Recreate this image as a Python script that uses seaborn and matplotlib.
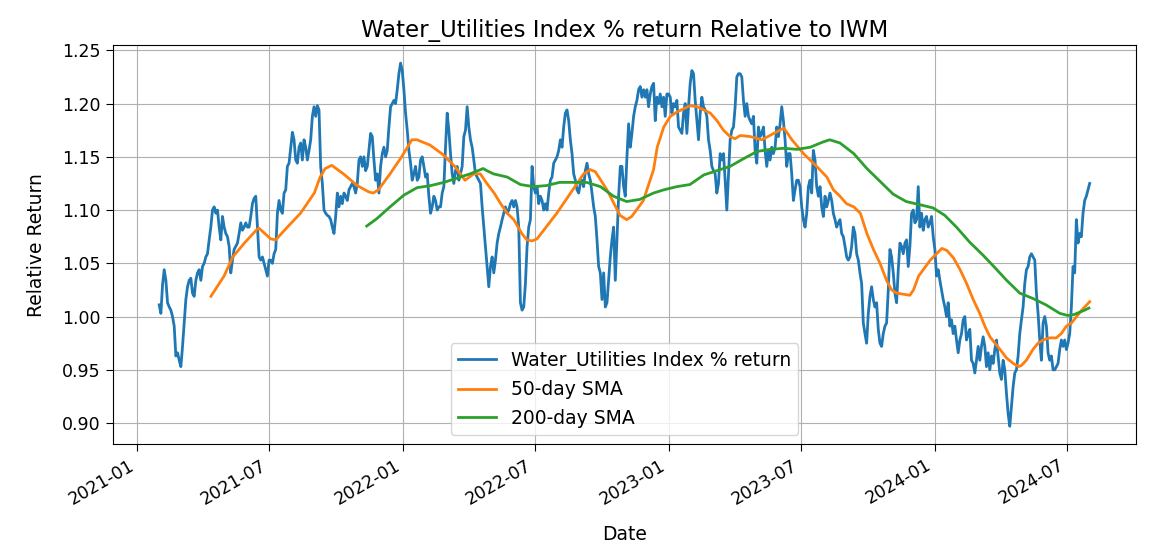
import numpy as np
import pandas as pd
import seaborn as sns
import matplotlib.pyplot as plt
import matplotlib.dates as mdates

# daily-ish relative return readings, 2021-01-31 .. 2024-08-01 (evenly spaced)
rel_return = [
    1.011, 1.003, 1.030, 1.044, 1.034, 1.013, 1.009, 1.006, 1.000, 0.991,
    0.963, 0.966, 0.959, 0.953, 0.972, 0.994, 1.016, 1.028, 1.034, 1.036,
    1.022, 1.019, 1.034, 1.041, 1.044, 1.034, 1.047, 1.050, 1.056, 1.059,
    1.072, 1.084, 1.100, 1.103, 1.097, 1.100, 1.084, 1.072, 1.094, 1.084,
    1.078, 1.075, 1.066, 1.041, 1.053, 1.063, 1.066, 1.069, 1.078, 1.088,
    1.081, 1.084, 1.088, 1.084, 1.084, 1.094, 1.106, 1.111, 1.113, 1.084,
    1.056, 1.053, 1.056, 1.050, 1.044, 1.038, 1.053, 1.053, 1.050, 1.059,
    1.063, 1.097, 1.109, 1.100, 1.097, 1.116, 1.119, 1.141, 1.144, 1.159,
    1.173, 1.166, 1.147, 1.144, 1.159, 1.163, 1.147, 1.166, 1.159, 1.147,
    1.156,
    1.166, 1.188, 1.197, 1.188, 1.198, 1.194, 1.141, 1.125, 1.100, 1.097,
    1.095, 1.094, 1.091, 1.084, 1.078, 1.094, 1.116, 1.103, 1.113, 1.106,
    1.116, 1.113, 1.109, 1.119, 1.122, 1.125, 1.122, 1.116, 1.125, 1.147,
    1.150, 1.141, 1.150, 1.137, 1.141, 1.156, 1.172, 1.169, 1.147, 1.128,
    1.134, 1.116, 1.141, 1.153, 1.159, 1.150, 1.156, 1.178, 1.197, 1.200,
    1.203, 1.200, 1.213, 1.228, 1.238, 1.231, 1.213, 1.191, 1.175, 1.156,
    1.144, 1.128, 1.134, 1.141, 1.128, 1.131, 1.147, 1.150, 1.141, 1.131,
    1.134, 1.113, 1.097, 1.103, 1.113, 1.109, 1.100, 1.103, 1.103, 1.116,
    1.122, 1.159, 1.191, 1.175, 1.153, 1.134, 1.125, 1.137, 1.141, 1.128,
    1.134, 1.141, 1.169, 1.175, 1.197, 1.178, 1.166, 1.159, 1.147, 1.134,
    1.131, 1.128,
    1.125, 1.103, 1.084, 1.066, 1.047, 1.028, 1.047, 1.056, 1.041, 1.053,
    1.069, 1.078, 1.084, 1.091, 1.097, 1.103, 1.097, 1.100, 1.106, 1.109,
    1.103, 1.109, 1.103, 1.084, 1.013, 1.006, 1.009, 1.031, 1.066, 1.084,
    1.091, 1.141, 1.122, 1.116, 1.122, 1.106, 1.113, 1.109, 1.100, 1.106,
    1.100, 1.116, 1.128, 1.131, 1.144, 1.147, 1.150, 1.156, 1.166, 1.159,
    1.178, 1.191, 1.194, 1.184, 1.166, 1.153, 1.134, 1.128, 1.119, 1.116,
    1.125, 1.128, 1.122, 1.137, 1.144, 1.134, 1.128, 1.116, 1.103, 1.094,
    1.072, 1.047, 1.041, 1.016, 1.041, 1.009, 1.013, 1.034, 1.056, 1.072,
    1.084, 1.034, 1.072, 1.113, 1.141, 1.141, 1.122, 1.113, 1.150, 1.181,
    1.159, 1.172, 1.188, 1.197, 1.203, 1.213, 1.216, 1.206, 1.213, 1.206,
    1.213, 1.197,
    1.209, 1.216, 1.219, 1.184, 1.206, 1.200, 1.209, 1.197, 1.206, 1.188,
    1.209, 1.209, 1.206, 1.191, 1.200, 1.197, 1.203, 1.178, 1.175, 1.172,
    1.191, 1.200, 1.172, 1.197, 1.219, 1.231, 1.228, 1.203, 1.184, 1.166,
    1.191, 1.206, 1.197, 1.194, 1.188, 1.166, 1.156, 1.141, 1.137, 1.134,
    1.116, 1.125, 1.153, 1.147, 1.153, 1.128, 1.100, 1.134, 1.166, 1.175,
    1.178, 1.197, 1.225, 1.228, 1.228, 1.225, 1.203, 1.188, 1.200, 1.188,
    1.184, 1.181, 1.188, 1.156, 1.144, 1.178, 1.169, 1.172, 1.178, 1.156,
    1.141, 1.156, 1.147, 1.159, 1.153, 1.159, 1.178, 1.169, 1.181, 1.197,
    1.184, 1.166, 1.141, 1.153, 1.153, 1.134, 1.109, 1.119, 1.128, 1.128,
    1.122, 1.103, 1.091, 1.084, 1.097, 1.122, 1.128, 1.116, 1.156, 1.147,
    1.122, 1.113,
    1.122, 1.103, 1.094, 1.113, 1.103, 1.109, 1.116, 1.109, 1.097, 1.091,
    1.084, 1.088, 1.091, 1.078, 1.075, 1.066, 1.056, 1.053, 1.056, 1.066,
    1.084, 1.078, 1.059, 1.053, 1.041, 1.031, 0.994, 0.984, 0.975, 1.003,
    1.019, 1.028, 1.016, 1.009, 1.013, 0.988, 0.975, 0.972, 0.984, 0.991,
    0.994, 1.025, 1.063, 1.056, 1.041, 1.022, 1.013, 1.044, 1.069, 1.066,
    1.059, 1.069, 1.072, 1.047, 1.066, 1.097, 1.100, 1.088, 1.091, 1.122,
    1.084, 1.097, 1.081, 1.091, 1.094, 1.084, 1.088, 1.094, 1.075, 1.063,
    1.038, 1.044, 1.034, 1.025, 1.016, 1.009, 1.000, 1.013, 0.991, 0.997,
    0.984, 0.991, 0.978, 0.966, 0.978, 0.984, 0.997, 1.000, 0.978, 0.984,
    0.988, 0.959, 0.956, 0.947, 0.959, 0.972,
    0.959, 0.972, 0.981, 0.972, 0.953, 0.966, 0.950, 0.963, 0.956, 0.969,
    0.978, 0.963, 0.947, 0.941, 0.959, 0.950, 0.928, 0.909, 0.897, 0.916,
    0.934, 0.947, 0.950, 0.963, 0.984, 0.997, 1.009, 1.031, 1.044, 1.047,
    1.056, 1.059, 1.056, 1.053, 1.022, 1.003, 0.978, 0.959, 0.994, 1.000,
    0.991, 0.966, 0.959, 0.963, 0.950, 0.950, 0.953, 0.956, 0.969, 0.978,
    0.972, 0.978, 0.969, 0.975, 0.984, 1.009, 1.047, 1.041, 1.091, 1.069,
    1.078, 1.075, 1.097, 1.109, 1.113, 1.119, 1.125,
]
start_date = '2021-01-31'
end_date = '2024-08-01'

sma50_dates = [
    '2021-04-12', '2021-04-30', '2021-05-12', '2021-05-28', '2021-06-13', '2021-06-17',
    '2021-07-03', '2021-07-10', '2021-07-26', '2021-08-13', '2021-09-01', '2021-09-09',
    '2021-09-16', '2021-09-25', '2021-10-11', '2021-10-30', '2021-11-15', '2021-11-21',
    '2021-11-28', '2021-12-14', '2021-12-30', '2022-01-13', '2022-01-20', '2022-02-07',
    '2022-02-25', '2022-03-13', '2022-03-27', '2022-04-08', '2022-04-17', '2022-04-26',
    '2022-05-06', '2022-05-15', '2022-05-24', '2022-06-02', '2022-06-13', '2022-06-20',
    '2022-06-27', '2022-07-04', '2022-07-13', '2022-07-31', '2022-08-19', '2022-09-06',
    '2022-09-15', '2022-09-22', '2022-10-08', '2022-10-26', '2022-11-04', '2022-11-11',
    '2022-11-27', '2022-12-11', '2022-12-16', '2022-12-25', '2023-01-03', '2023-01-12',
    '2023-01-21', '2023-01-30', '2023-02-09', '2023-02-18', '2023-02-27', '2023-03-08',
    '2023-03-17', '2023-03-26', '2023-04-02', '2023-04-09', '2023-04-23', '2023-05-09',
    '2023-05-25', '2023-06-08', '2023-06-19', '2023-07-05', '2023-07-23', '2023-08-06',
    '2023-08-15', '2023-08-24', '2023-09-02', '2023-09-12', '2023-09-21', '2023-09-30',
    '2023-10-09', '2023-10-18', '2023-10-27', '2023-11-03', '2023-11-10', '2023-11-28',
    '2023-12-03', '2023-12-10', '2023-12-26', '2024-01-11', '2024-01-18', '2024-01-27',
    '2024-02-05', '2024-02-14', '2024-02-23', '2024-03-03', '2024-03-10', '2024-03-17',
    '2024-03-24', '2024-03-31', '2024-04-09', '2024-04-18', '2024-04-25', '2024-04-29',
    '2024-05-06', '2024-05-15', '2024-05-22', '2024-05-29', '2024-06-07', '2024-06-16',
    '2024-06-23', '2024-06-30', '2024-07-07', '2024-07-14', '2024-07-21', '2024-07-28',
    '2024-08-01',
]
sma50 = [
    1.019, 1.038, 1.056, 1.069, 1.081, 1.083,
    1.073, 1.072, 1.084, 1.097, 1.116, 1.131,
    1.139, 1.142, 1.134, 1.123, 1.117, 1.116,
    1.119, 1.134, 1.150, 1.166, 1.166, 1.161,
    1.152, 1.141, 1.128, 1.134, 1.134, 1.125,
    1.116, 1.106, 1.097, 1.091, 1.078, 1.072,
    1.071, 1.073, 1.081, 1.097, 1.116, 1.134,
    1.138, 1.136, 1.119, 1.095, 1.091, 1.094,
    1.109, 1.138, 1.159, 1.178, 1.188, 1.192,
    1.195, 1.198, 1.197, 1.194, 1.191, 1.184,
    1.175, 1.169, 1.167, 1.170, 1.169, 1.166,
    1.172, 1.177, 1.166, 1.153, 1.141, 1.131,
    1.119, 1.113, 1.106, 1.103, 1.097, 1.078,
    1.063, 1.050, 1.034, 1.025, 1.022, 1.020,
    1.025, 1.038, 1.053, 1.064, 1.062, 1.055,
    1.044, 1.031, 1.016, 1.003, 0.991, 0.981,
    0.975, 0.969, 0.961, 0.956, 0.953, 0.954,
    0.959, 0.969, 0.975, 0.978, 0.980, 0.980,
    0.984, 0.991, 0.994, 1.000, 1.006, 1.011,
    1.014,
]

sma200_dates = [
    '2021-11-12', '2021-11-26', '2021-12-14', '2022-01-02', '2022-01-20', '2022-02-08',
    '2022-02-26', '2022-03-16', '2022-04-03', '2022-04-21', '2022-04-26', '2022-05-05',
    '2022-05-24', '2022-06-11', '2022-06-29', '2022-07-17', '2022-08-04', '2022-08-23',
    '2022-09-10', '2022-09-29', '2022-10-17', '2022-11-04', '2022-11-22', '2022-12-11',
    '2022-12-25', '2023-01-12', '2023-01-30', '2023-02-18', '2023-03-08', '2023-03-26',
    '2023-04-13', '2023-05-02', '2023-05-20', '2023-06-08', '2023-06-26', '2023-07-14',
    '2023-08-01', '2023-08-10', '2023-08-24', '2023-09-12', '2023-09-30', '2023-10-18',
    '2023-11-05', '2023-11-23', '2023-12-12', '2023-12-30', '2024-01-15', '2024-01-31',
    '2024-02-18', '2024-03-07', '2024-03-21', '2024-04-09', '2024-04-27', '2024-05-15',
    '2024-06-02', '2024-06-21', '2024-07-02', '2024-07-11', '2024-07-25', '2024-07-31',
]
sma200 = [
    1.085, 1.092, 1.103, 1.114, 1.121, 1.123,
    1.126, 1.130, 1.134, 1.139, 1.137, 1.134,
    1.131, 1.124, 1.122, 1.123, 1.126, 1.126,
    1.126, 1.122, 1.113, 1.108, 1.110, 1.116,
    1.119, 1.122, 1.124, 1.133, 1.137, 1.141,
    1.148, 1.155, 1.157, 1.158, 1.157, 1.159,
    1.164, 1.166, 1.163, 1.153, 1.139, 1.127,
    1.115, 1.108, 1.105, 1.102, 1.095, 1.084,
    1.070, 1.058, 1.048, 1.034, 1.022, 1.017,
    1.011, 1.003, 1.001, 1.002, 1.006, 1.008,
]

dates = pd.date_range(start_date, end_date, periods=len(rel_return))
df = pd.DataFrame({'Date': dates, 'Relative Return': rel_return})
df50 = pd.DataFrame({'Date': pd.to_datetime(sma50_dates), 'SMA': sma50})
df200 = pd.DataFrame({'Date': pd.to_datetime(sma200_dates), 'SMA': sma200})

fig, ax = plt.subplots(figsize=(11.5, 5.48), dpi=100)
fig.subplots_adjust(left=0.098, right=0.988, top=0.918, bottom=0.189)

sns.lineplot(data=df, x='Date', y='Relative Return', ax=ax, color='C0', lw=2.0,
             label='Water_Utilities Index % return')
sns.lineplot(data=df50, x='Date', y='SMA', ax=ax, color='C1', lw=2.0, label='50-day SMA')
sns.lineplot(data=df200, x='Date', y='SMA', ax=ax, color='C2', lw=2.0, label='200-day SMA')

ax.xaxis.set_major_locator(mdates.MonthLocator(bymonth=[1, 7]))
ax.xaxis.set_major_formatter(mdates.DateFormatter('%Y-%m'))
ax.set_yticks([0.90, 0.95, 1.00, 1.05, 1.10, 1.15, 1.20, 1.25])
ax.tick_params(labelsize=12.5, length=5)
for lab in ax.get_xticklabels():
    lab.set_rotation(30)
    lab.set_ha('right')

ax.set_title('Water_Utilities Index % return Relative to IWM', fontsize=16.5)
ax.set_xlabel('Date', fontsize=13.5, labelpad=12)
ax.set_ylabel('Relative Return', fontsize=13.5, labelpad=12)
ax.grid(True)
ax.legend(loc='lower center', fontsize=13.5)

plt.savefig('out.png', dpi=100)
